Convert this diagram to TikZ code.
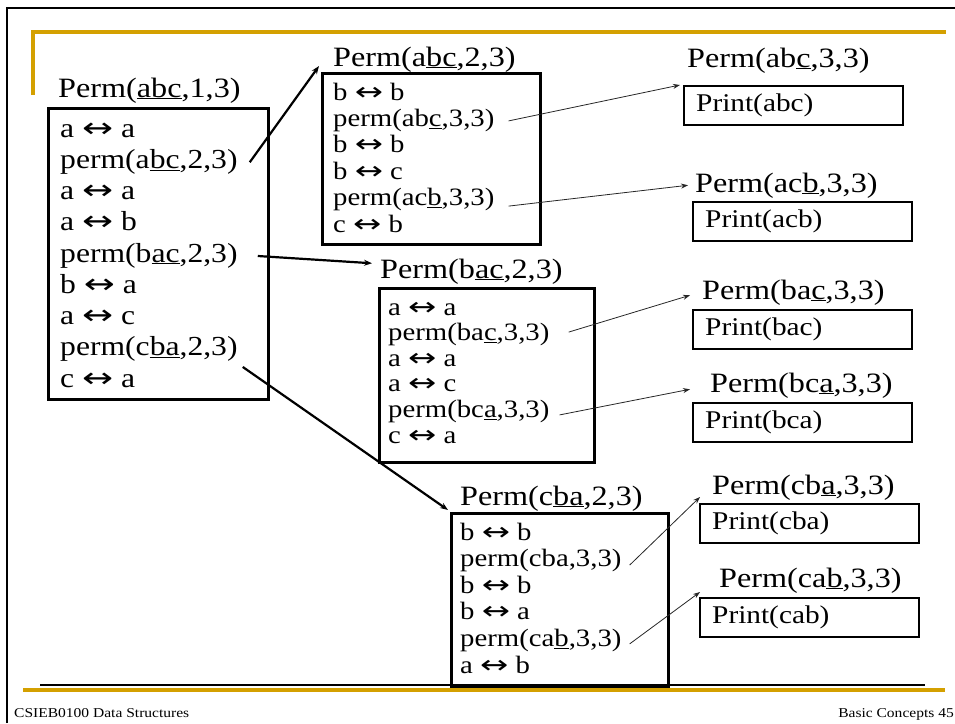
\documentclass[tikz,border=0pt]{standalone}
\usepackage{fontspec}
\setmainfont{Liberation Serif}[FakeStretch=1.15]
\newfontfamily\arrowfont{DejaVu Sans}[FakeStretch=1.35]
\usetikzlibrary{arrows.meta}
\definecolor{slidegold}{RGB}{212,160,0}
\newcommand{\swp}{{\arrowfont ↔}}
\tikzset{
  frame/.style={draw, line width=2.8pt, anchor=north west, inner sep=0pt},
  pbox/.style={draw, line width=2.4pt, anchor=north west, inner xsep=12pt, inner ysep=0pt,
    minimum width=219pt, minimum height=39pt, text width=195pt, align=left,
    font=\fontsize{25.5}{28}\selectfont},
  ttl/.style={anchor=base west, inner sep=0pt, font=\fontsize{28}{31}\selectfont},
  bigline/.style={anchor=base west, inner sep=0pt, text height=19pt, text depth=7pt,
    font=\fontsize{27.5}{31}\selectfont},
  smline/.style={anchor=base west, inner sep=0pt, text height=17pt, text depth=6pt,
    font=\fontsize{25}{27}\selectfont},
  call/.style={-{Stealth[length=8pt,width=6pt]}, line width=2.2pt},
  ret/.style={-{Stealth[length=7pt,width=5pt]}, line width=0.8pt, black!85},
}
\begin{document}
\begin{tikzpicture}[x=1pt,y=-1pt]
\useasboundingbox (0,0) rectangle (955,723);
% slide frame
\draw[line width=2.5pt] (7,723) -- (7,8) -- (955,8);
\draw[slidegold, line width=4pt] (33,95) -- (33,32) -- (946,32);
\draw[line width=1.5pt] (40,685) -- (925,685);
\draw[slidegold, line width=4pt] (23,690) -- (945,690);
\node[anchor=base west, inner sep=0pt, font=\fontsize{13.5}{16}\selectfont] (course) at (14,717) {CSIEB0100 Data Structures};
\node[anchor=base east, inner sep=0pt, font=\fontsize{13.5}{16}\selectfont] (page) at (954,717) {Basic Concepts 45};

% Perm(abc,1,3)
\node[ttl] (tA) at (58,97) {Perm(\underline{abc},1,3)};
\node[frame, minimum width=220pt, minimum height=291pt] (boxA) at (47,107) {};
\foreach \t [count=\i] in {{a \swp{} a},{perm(a\underline{bc},2,3)},{a \swp{} a},{a \swp{} b},
  {perm(b\underline{ac},2,3)},{b \swp{} a},{a \swp{} c},{perm(c\underline{ba},2,3)},{c \swp{} a}}
  \node[bigline] (A\i) at (60,137+31.25*\i-31.25) {\t};

% Perm(abc,2,3)
\node[ttl] (tB) at (333,66) {Perm(a\underline{bc},2,3)};
\node[frame, minimum width=218pt, minimum height=171pt] (boxB) at (321,72) {};
\foreach \t [count=\i] in {{b \swp{} b},{perm(ab\underline{c},3,3)},{b \swp{} b},{b \swp{} c},
  {perm(ac\underline{b},3,3)},{c \swp{} b}}
  \node[smline] (B\i) at (333,100+26.4*\i-26.4) {\t};

% Perm(bac,2,3)
\node[ttl] (tC) at (380,278) {Perm(b\underline{ac},2,3)};
\node[frame, minimum width=215pt, minimum height=174pt] (boxC) at (378,287) {};
\foreach \t [count=\i] in {{a \swp{} a},{perm(ba\underline{c},3,3)},{a \swp{} a},{a \swp{} c},
  {perm(bc\underline{a},3,3)},{c \swp{} a}}
  \node[smline] (C\i) at (388,315+25.6*\i-25.6) {\t};

% Perm(cba,2,3)
\node[ttl] (tD) at (460,505) {Perm(c\underline{ba},2,3)};
\node[frame, minimum width=217pt, minimum height=173pt] (boxD) at (450,512) {};
\foreach \t [count=\i] in {{b \swp{} b},{perm(cba,3,3)},{b \swp{} b},{b \swp{} a},
  {perm(ca\underline{b},3,3)},{a \swp{} b}}
  \node[smline] (D\i) at (460,540+26.6*\i-26.6) {\t};

% leaves
\node[ttl] (tabc) at (687,67) {Perm(ab\underline{c},3,3)};
\node[pbox, minimum width=219pt] (pabc) at (683,85) {Print(abc)};
\node[ttl] (tacb) at (695,192) {Perm(ac\underline{b},3,3)};
\node[pbox] (pacb) at (692,201) {Print(acb)};
\node[ttl] (tbac) at (702,299) {Perm(ba\underline{c},3,3)};
\node[pbox] (pbac) at (692,309) {Print(bac)};
\node[ttl] (tbca) at (710,392) {Perm(bc\underline{a},3,3)};
\node[pbox] (pbca) at (692,402) {Print(bca)};
\node[ttl] (tcba) at (712,494) {Perm(cb\underline{a},3,3)};
\node[pbox] (pcba) at (699,503) {Print(cba)};
\node[ttl] (tcab) at (719,587) {Perm(ca\underline{b},3,3)};
\node[pbox] (pcab) at (699,597) {Print(cab)};

% calls
\draw[call] ([xshift=12pt]A2.east) -- ([xshift=-2pt,yshift=6pt]boxB.north west);
\draw[call] ([xshift=20pt]A5.east) -- ([xshift=-8pt,yshift=8pt]tC.west);
\draw[call] ([xshift=5pt,yshift=-4pt]A8.south east) -- ([xshift=-2pt,yshift=2pt]boxD.north west);
\draw[ret] ([xshift=14pt]B2.east) -- ([xshift=-3pt]pabc.north west);
\draw[ret] ([xshift=14pt,yshift=-6pt]B5.east) -- ([xshift=-7pt]tacb.west);
\draw[ret] ([xshift=19pt,yshift=3pt]C2.east) -- ([xshift=-12pt,yshift=-3pt]tbac.west);
\draw[ret] ([xshift=10pt,yshift=-3pt]C5.east) -- ([xshift=-20pt,yshift=-4pt]tbca.west);
\draw[ret] ([xshift=8pt,yshift=-4pt]D2.east) -- ([xshift=1pt,yshift=6pt]pcba.north west);
\draw[ret] ([xshift=8pt,yshift=-3pt]D5.east) -- ([xshift=1pt,yshift=5pt]pcab.north west);
\end{tikzpicture}
\end{document}
